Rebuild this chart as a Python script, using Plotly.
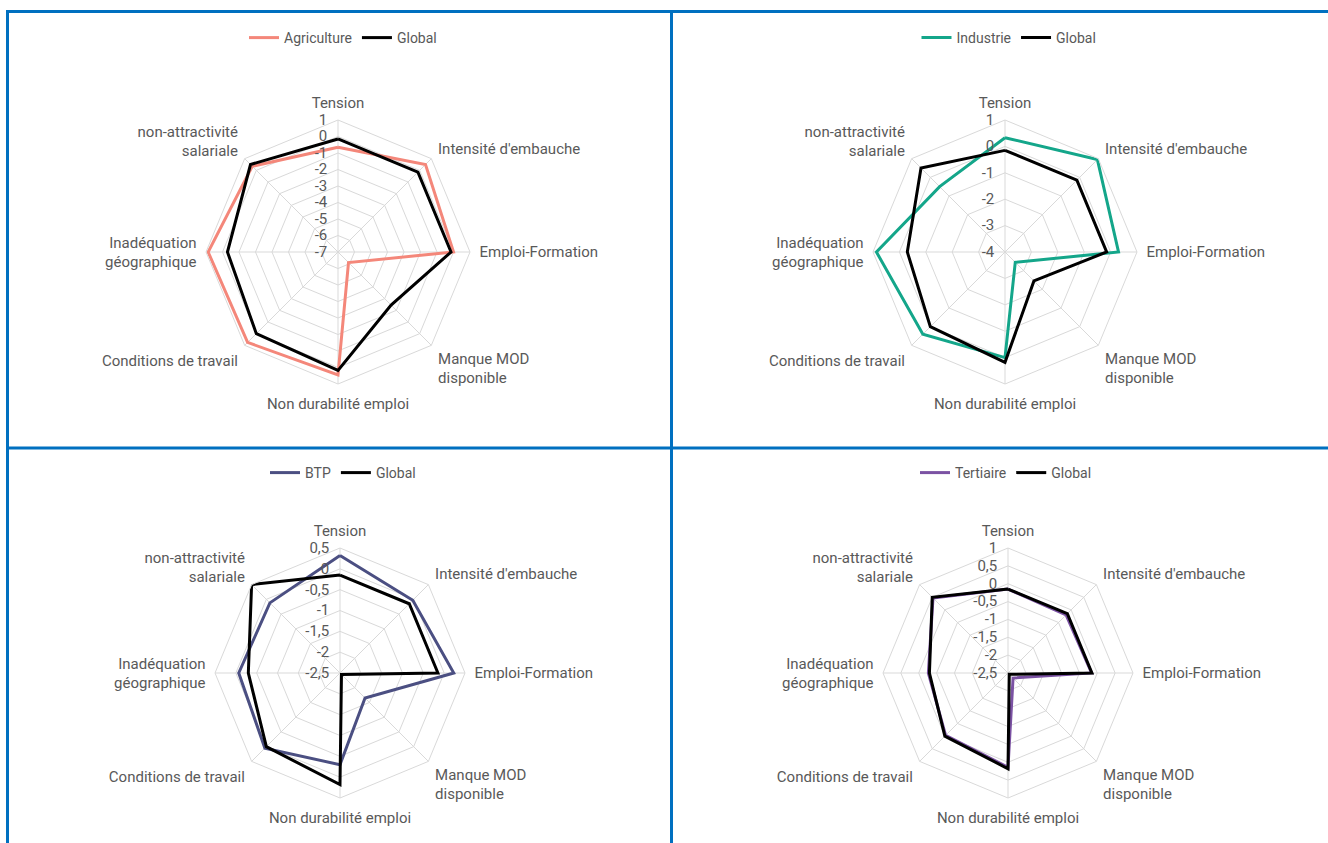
import plotly.graph_objects as go

categories = ["Tension", "Intensité d'embauche", "Emploi-Formation",
              "Manque MOD<br>disponible", "Non durabilité emploi",
              "Conditions de travail", "Inadéquation<br>géographique",
              "non-attractivité<br>salariale"]

global_vals = [-0.15, -0.15, -0.15, -2.45, 0.18, 0.0, -0.3, 0.5]
agriculture = [-0.65, 0.5, 0.0, -6.1, 0.45, 0.75, 0.87, 0.35]
industrie = [0.33, 0.95, 0.3, -3.45, 0.0, 0.4, 0.87, -0.5]
btp = [0.32, -0.03, 0.23, -1.65, -0.3, 0.05, -0.07, -0.12]
tertiaire = [-0.15, -0.2, -0.16, -2.3, 0.14, -0.03, -0.27, 0.47]

ticks_agri = [1, 0, -1, -2, -3, -4, -5, -6, -7]
ticklabels_agri = ["1", "0", "-1", "-2", "-3", "-4", "-5", "-6", "-7"]
ticks_ind = [1, 0, -1, -2, -3, -4]
ticklabels_ind = ["1", "0", "-1", "-2", "-3", "-4"]
ticks_btp = [0.5, 0, -0.5, -1, -1.5, -2, -2.5]
ticklabels_btp = ["0,5", "0", "-0,5", "-1", "-1,5", "-2", "-2,5"]
ticks_ter = [1, 0.5, 0, -0.5, -1, -1.5, -2, -2.5]
ticklabels_ter = ["1", "0,5", "0", "-0,5", "-1", "-1,5", "-2", "-2,5"]

FONT = "Roboto"
GREY = "#595959"
GRID = "#D9D9D9"
W, H = 1328, 843

panels = [
    dict(name="Agriculture", vals=agriculture, color="#F4877A", ticks=ticks_agri,
         labels=ticklabels_agri, rng=[-7, 1], center=(338, 252), R=132,
         legend_xy=(343, 38)),
    dict(name="Industrie", vals=industrie, color="#14A68A", ticks=ticks_ind,
         labels=ticklabels_ind, rng=[-4, 1], center=(1005, 252), R=132,
         legend_xy=(1009, 38)),
    dict(name="BTP", vals=btp, color="#4B4F82", ticks=ticks_btp,
         labels=ticklabels_btp, rng=[-2.5, 0.5], center=(340, 673), R=125,
         legend_xy=(343, 473)),
    dict(name="Tertiaire", vals=tertiaire, color="#7B52A3", ticks=ticks_ter,
         labels=ticklabels_ter, rng=[-2.5, 1], center=(1008, 673), R=125,
         legend_xy=(1006, 473)),
]

fig = go.Figure()
layout_updates = {}
for i, p in enumerate(panels):
    sub = "polar" if i == 0 else f"polar{i+1}"
    leg = "legend" if i == 0 else f"legend{i+1}"
    theta = categories + [categories[0]]
    fig.add_trace(go.Scatterpolar(
        r=p["vals"] + [p["vals"][0]], theta=theta, mode="lines",
        name=p["name"], line=dict(color=p["color"], width=3),
        subplot=sub, legend=leg))
    fig.add_trace(go.Scatterpolar(
        r=global_vals + [global_vals[0]], theta=theta, mode="lines",
        name="Global", line=dict(color="black", width=3),
        subplot=sub, legend=leg))
    cx, cy = p["center"]
    R = p["R"]
    layout_updates[sub] = dict(
        domain=dict(x=[(cx - R) / W, (cx + R) / W],
                    y=[1 - (cy + R) / H, 1 - (cy - R) / H]),
        gridshape="linear",
        bgcolor="white",
        radialaxis=dict(range=p["rng"], tickvals=p["ticks"], ticktext=p["labels"],
                        angle=90, tickangle=90, side="counterclockwise",
                        showline=False, ticks="outside", ticklen=5,
                        tickcolor="rgba(0,0,0,0)", gridcolor=GRID, gridwidth=1,
                        tickfont=dict(family=FONT, size=15, color=GREY)),
        angularaxis=dict(rotation=90, direction="clockwise", linecolor=GRID,
                         gridcolor=GRID, showline=True, ticks="outside",
                         ticklen=6, tickcolor="rgba(0,0,0,0)",
                         tickfont=dict(family=FONT, size=15, color=GREY)),
    )
    lx, ly = p["legend_xy"]
    layout_updates[leg] = dict(
        orientation="h", x=lx / W, y=1 - ly / H, xanchor="center", yanchor="middle",
        font=dict(family=FONT, size=14, color=GREY), bgcolor="rgba(0,0,0,0)",
        itemwidth=30)

fig.update_layout(**layout_updates)

BLUE = "#0070C0"
shapes = [
    dict(type="line", x0=7 / W, x1=1, y0=1 - 11.5 / H, y1=1 - 11.5 / H),
    dict(type="line", x0=7.5 / W, x1=7.5 / W, y0=0, y1=1 - 10 / H),
    dict(type="line", x0=671.5 / W, x1=671.5 / W, y0=0, y1=1 - 10 / H),
    dict(type="line", x0=7 / W, x1=1, y0=1 - 448 / H, y1=1 - 448 / H),
]
for s in shapes:
    s.update(xref="paper", yref="paper", line=dict(color=BLUE, width=3))

fig.update_layout(
    width=W, height=H, margin=dict(l=0, r=0, t=0, b=0),
    paper_bgcolor="white", plot_bgcolor="white",
    font=dict(family=FONT, color=GREY),
    shapes=shapes, showlegend=True,
)

fig.write_html("out.html", config={"displayModeBar": False},
               post_script="document.body.style.margin='0';document.body.style.overflow='hidden';")
